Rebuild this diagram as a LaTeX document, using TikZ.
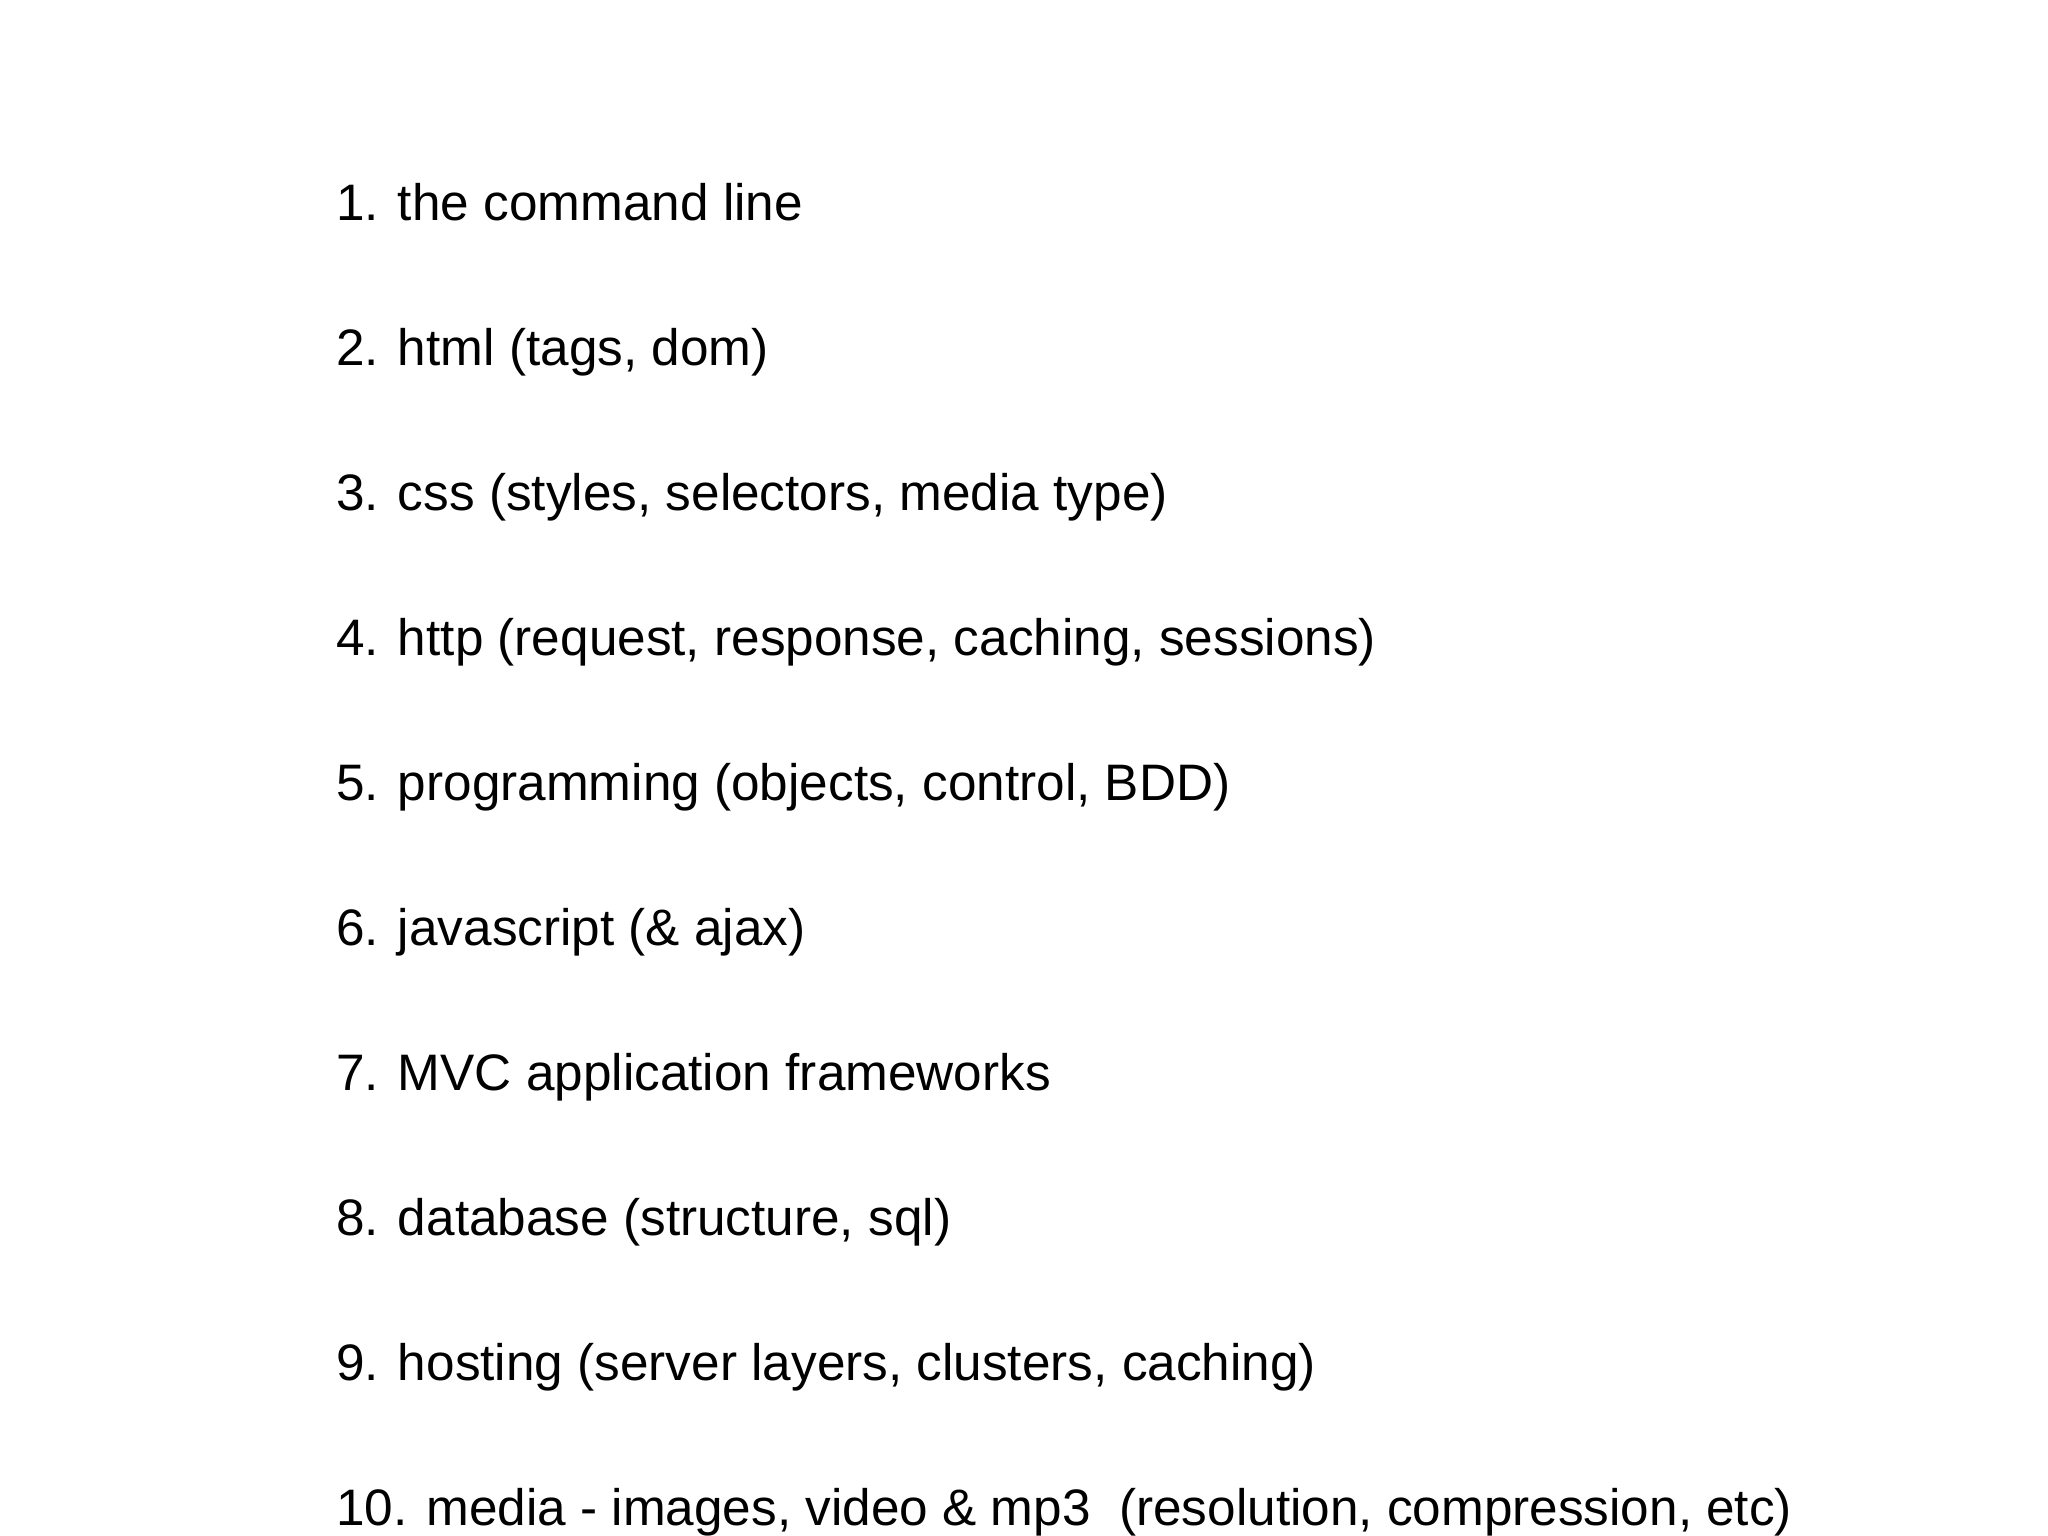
\documentclass[tikz,border=0pt]{standalone}
\usepackage{fontspec}
\setmainfont{Liberation Sans}
\begin{document}
\begin{tikzpicture}[x=1pt,y=1pt,item/.style={anchor=base west,inner sep=0pt,font=\fontsize{51.3}{60}\selectfont}]
\useasboundingbox[fill=white] (0,0) rectangle (2048,1535);
\foreach \i/\t in {1/{1. the command line},2/{2. html (tags, dom)},3/{3. css (styles, selectors, media type)},4/{4. http (request, response, caching, sessions)},5/{5. programming (objects, control, BDD)},6/{6. javascript (\& ajax)},7/{7. MVC application frameworks},8/{8. database (structure, sql)},9/{9. hosting (server layers, clusters, caching)},10/{10. media - images, video \& mp3\ \ (resolution, compression, etc)}}
  \node[item] (l\i) at (336,{1535-220.7-(\i-1)*145}) {\t};
\end{tikzpicture}
\end{document}
